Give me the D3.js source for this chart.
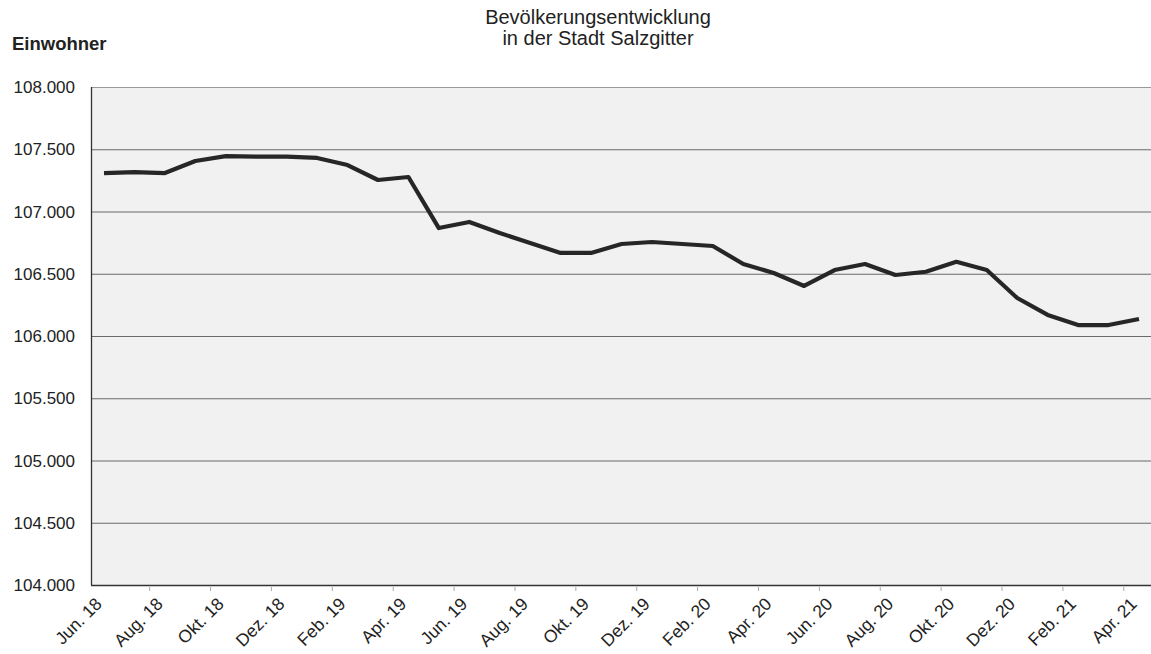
<!DOCTYPE html>
<html><head><meta charset="utf-8">
<script src="https://cdn.jsdelivr.net/npm/d3@7"></script>
<style>body{margin:0;background:#fff;}svg{display:block;font-family:"Liberation Sans",Arial,sans-serif;}</style>
</head><body><svg id="c" width="1151" height="654"></svg>
<script>
const months = ["Jun. 18","Jul. 18","Aug. 18","Sep. 18","Okt. 18","Nov. 18","Dez. 18","Jan. 19","Feb. 19","Mär. 19","Apr. 19","Mai. 19",
"Jun. 19","Jul. 19","Aug. 19","Sep. 19","Okt. 19","Nov. 19","Dez. 19","Jan. 20","Feb. 20","Mär. 20","Apr. 20","Mai. 20",
"Jun. 20","Jul. 20","Aug. 20","Sep. 20","Okt. 20","Nov. 20","Dez. 20","Jan. 21","Feb. 21","Mär. 21","Apr. 21"];
const einwohner = [107309,107317,107309,107406,107445,107440,107440,107430,107373,107253,107277,106867,
106916,106827,106747,106667,106667,106739,106755,106739,106723,106578,106506,106402,
106530,106578,106490,106516,106596,106530,106305,106169,106088,106088,106137];
const yTicks = [104000,104500,105000,105500,106000,106500,107000,107500,108000];
const xLabelIdx = [0,2,4,6,8,10,12,14,16,18,20,22,24,26,28,30,32,34];
const titleLines = ["Bevölkerungsentwicklung","in der Stadt Salzgitter"];
const yAxisTitle = "Einwohner";

const svg = d3.select("#c");
const L = 91, R = 1151, T = 87, B = 585;
const x = d3.scaleLinear().domain([0, months.length-1]).range([104, 1139]);
const y = d3.scaleLinear().domain([104000,108000]).range([B, T]);

svg.append("rect").attr("x",L).attr("y",T).attr("width",R-L).attr("height",B-T).attr("fill","#f1f1f1");

// gridlines
svg.append("g").selectAll("line").data(yTicks.filter(v=>v>104000)).join("line")
  .attr("x1",L).attr("x2",R).attr("y1",d=>y(d)+0.5).attr("y2",d=>y(d)+0.5)
  .attr("stroke",d=>d===108000?"#999":"#6a6a6a").attr("stroke-width",1.2);

// y labels
svg.append("g").selectAll("text").data(yTicks).join("text")
  .attr("x",75).attr("y",d=>y(d)).attr("dy","0.36em").attr("text-anchor","end")
  .attr("font-size",17).attr("fill","#222").text(d=>d3.format(".3f")(d/1000));

// axes lines
svg.append("line").attr("x1",L+0.5).attr("x2",L+0.5).attr("y1",T).attr("y2",B).attr("stroke","#333").attr("stroke-width",1.3);
svg.append("line").attr("x1",L).attr("x2",R).attr("y1",B+0.5).attr("y2",B+0.5).attr("stroke","#333").attr("stroke-width",1.3);

// tick marks between categories
const tickIdx = d3.range(1.5, months.length-1, 2);
svg.append("g").selectAll("line").data(tickIdx).join("line")
  .attr("x1",d=>x(d)).attr("x2",d=>x(d)).attr("y1",B+2).attr("y2",B+6)
  .attr("stroke","#aaa").attr("stroke-width",1);

// x labels
svg.append("g").selectAll("text").data(xLabelIdx).join("text")
  .attr("transform",d=>`translate(${x(d)-1},${B+20}) rotate(-45)`)
  .attr("text-anchor","end").attr("font-size",17.5).attr("fill","#222")
  .text(d=>months[d]);

// line
const line = d3.line().x((d,i)=>x(i)).y(d=>y(d));
svg.append("path").datum(einwohner).attr("d",line).attr("fill","none")
  .attr("stroke","#262626").attr("stroke-width",4.2).attr("stroke-linejoin","round");

// titles
svg.append("text").attr("x",598).attr("y",24).attr("text-anchor","middle").attr("font-size",20).attr("fill","#222").text(titleLines[0]);
svg.append("text").attr("x",598).attr("y",45).attr("text-anchor","middle").attr("font-size",20).attr("fill","#222").text(titleLines[1]);
svg.append("text").attr("x",12).attr("y",50).attr("font-size",18.5).attr("font-weight","bold").attr("fill","#222").text(yAxisTitle);
</script></body></html>
